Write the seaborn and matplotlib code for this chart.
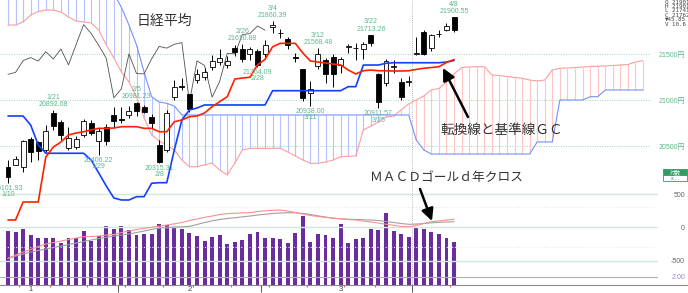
import numpy as np
import pandas as pd
import matplotlib
matplotlib.use("Agg")
import matplotlib.pyplot as plt
from matplotlib.patches import Rectangle, FancyArrowPatch
from matplotlib.lines import Line2D
import seaborn as sns

# ---------------- data ----------------
dates = ['1/10', '1/11', '1/15', '1/16', '1/17', '1/18', '1/21', '1/22', '1/23', '1/24',
         '1/25', '1/28', '1/29', '1/30', '1/31',
         '2/1', '2/4', '2/5', '2/6', '2/7', '2/8', '2/12', '2/13', '2/14', '2/15',
         '2/18', '2/19', '2/20', '2/21', '2/22', '2/25', '2/26', '2/27', '2/28',
         '3/1', '3/4', '3/5', '3/6', '3/7', '3/8', '3/11', '3/12', '3/13', '3/14',
         '3/15', '3/18', '3/19', '3/20', '3/22', '3/25', '3/26', '3/27', '3/28', '3/29',
         '4/1', '4/2', '4/3', '4/4', '4/5', '4/8']

open_ = [20270, 20296, 20270, 20580, 20550, 20460, 20862, 20767, 20481, 20495,
         20623, 20756, 20561, 20713, 20840,
         20795, 20840, 20968, 20925, 20821, 20514, 20460, 21040, 21150, 21065,
         21220, 21256, 21365, 21420, 21383, 21572, 21555, 21500, 21535,
         21500, 21796, 21735, 21665, 21470, 21340, 21076, 21373, 21438, 21474,
         21383, 21575, 21570, 21554, 21705, 21285, 21185, 21360, 21200, 21200,
         21500, 21745, 21565, 21720, 21764, 21900]
high = [20346, 20389, 20570, 20604, 20560, 20731, 20892.68, 20786, 20713, 20610,
        20800, 20790, 20700, 20740, 20930,
        20930, 20940, 20981.23, 20950, 20850, 20568, 20894, 21215, 21240, 21070,
        21340, 21350, 21494, 21553, 21486, 21600, 21610.88, 21578, 21559,
        21650, 21860.39, 21776, 21690, 21510, 21345, 21208, 21568.48, 21460, 21500,
        21473, 21617, 21622, 21630, 21713.26, 21300, 21450, 21440, 21240, 21260,
        21690, 21760, 21723, 21760, 21840, 21900.55]
low = [20101.93, 20291, 20215, 20332, 20351, 20440, 20677, 20568, 20460, 20470,
       20600, 20620, 20406.22, 20510, 20695,
       20753, 20807, 20830, 20860, 20700, 20315.31, 20440, 21000, 21112, 20870,
       21190, 21220, 21330, 21380, 21355, 21480, 21418, 21443, 21364.09,
       21470, 21731, 21674, 21560, 21420, 20990, 20938.00, 21340, 21193, 21146,
       21300, 21511, 21438, 21450, 21588, 20911.57, 21150, 21300, 21000, 21150,
       21490, 21490, 21540, 21690, 21755, 21741]
close = [20164, 20360, 20555, 20443, 20445, 20666, 20719, 20623, 20594, 20575,
         20774, 20649, 20665, 20557, 20773,
         20788, 20884, 20880, 20874, 20751, 20333, 20864, 21144, 21140, 20901,
         21282, 21303, 21431, 21464, 21426, 21528, 21449, 21557, 21385,
         21603, 21822, 21726, 21597, 21456, 21026, 21125, 21504, 21290, 21287,
         21451, 21585, 21567, 21609, 21627, 20977, 21428, 21378, 21034, 21206,
         21509, 21505, 21713, 21725, 21808, 21762]

tenkan = [19699, 19699, 19894, 19894, 19894, 20383, 20492, 20546, 20623, 20644,
          20658, 20677, 20695, 20695, 20699, 20713, 20713, 20713, 20695, 20695,
          20658, 20658, 20767, 20786, 20821, 20829, 20862, 20930, 20985, 21039,
          21231, 21242, 21250, 21384, 21445, 21582, 21619, 21619, 21619, 21514,
          21427, 21416, 21405, 21394, 21384, 21329, 21286, 21321, 21329, 21321,
          21321, 21318, 21318, 21321, 21335, 21348, 21356, 21365, 21411, 21443]
kijun = [20829, 20829, 20829, 20731, 20514, 20424, 20424, 20424, 20424, 20424,
         20424, 20351, 20210, 20068, 19938, 19916, 19916, 19952, 19952, 20098,
         20104, 20104, 20460, 20786, 20894, 20916, 20949, 20949, 20949, 20949,
         20949, 20949, 20949, 20949, 20949, 21104, 21104, 21104, 21104, 21104,
         21104, 21104, 21104, 21104, 21104, 21148, 21148, 21383, 21383, 21383,
         21402, 21408, 21408, 21408, 21408, 21408, 21408, 21408, 21416, 21432]

# leading spans run 25 sessions past the last candle
span_a = [21818, 21818, 21851, 21927, 21965, 21981, 21981, 21960, 21905, 21862,
          21851, 21840, 21764, 21601, 21460, 21307, 21199, 21036, 20807, 20623,
          20557, 20514, 20460, 20351, 20278, 20278, 20297, 20318, 20242, 20188,
          20318, 20460, 20478, 20478, 20478, 20478, 20478, 20438, 20394, 20351,
          20315, 20315, 20329, 20351, 20387, 20391, 20394, 20677, 20720, 20764,
          20818, 20830, 20894, 20960, 21003, 21047, 21112, 21128, 21199, 21286,
          21356, 21362, 21365, 21365, 21275, 21269, 21258, 21248, 21239, 21220,
          21210, 21220, 21329, 21348, 21351, 21356, 21362, 21367, 21370, 21373,
          21378, 21384, 21389, 21416, 21430]
span_b = [22250, 22250, 22250, 22250, 22250, 22250, 22250, 22250, 22250, 22250,
          22250, 22250, 22250, 22250, 22160, 22010, 21818, 21601, 21307, 21039,
          20981, 20967, 20938, 20840, 20840, 20840, 20840, 20840, 20840, 20840,
          20840, 20840, 20840, 20840, 20840, 20840, 20840, 20840, 20840, 20840,
          20840, 20840, 20840, 20840, 20840, 20840, 20840, 20840, 20840, 20840,
          20840, 20840, 20840, 20840, 20568, 20460, 20416, 20416, 20416, 20416,
          20416, 20416, 20416, 20416, 20416, 20416, 20416, 20416, 20416, 20416,
          20547, 20547, 20547, 21003, 21003, 21003, 21003, 21039, 21039, 21112,
          21112, 21112, 21112, 21112, 21112]

macd = [-464, -415, -370, -332, -287, -250, -227, -205, -182, -160,
        -140, -136, -130, -115, -106, -77, -55, -32, -14, 2,
        20, 35, 53, 73, 103, 125, 151, 170, 193, 206,
        212, 217, 220, 238, 248, 257, 260, 245, 223, 200,
        178, 163, 151, 140, 128, 118, 110, 95, 80, 65,
        47, 31, 14, 10, 28, 58, 85, 98, 110, 121]
signal = [-464, -430, -400, -370, -347, -325, -302, -280, -260, -235,
          -212, -190, -167, -149, -130, -115, -100, -77, -55, -32,
          -10, -2, 5, 8, 16, 43, 73, 98, 118, 133,
          145, 158, 170, 185, 197, 208, 215, 220, 218, 208,
          193, 173, 155, 136, 128, 122, 118, 113, 110, 103,
          88, 73, 58, 46, 50, 58, 68, 76, 80, 85]

# volume, 100 million shares
volume = [13.2, 13.0, 13.6, 12.1, 11.5, 11.5, 11.4, 10.2, 11.5, 11.5,
          13.2, 10.7, 11.9, 14.5, 13.7, 14.3, 13.5, 12.2, 12.5, 12.5,
          14.8, 14.6, 14.1, 13.6, 12.8, 12.0, 10.7, 11.6, 12.1, 10.0,
          10.6, 10.9, 12.4, 13.0, 11.5, 11.4, 11.1, 10.2, 12.6, 16.8,
          10.4, 12.4, 12.3, 11.4, 14.8, 10.2, 11.1, 11.5, 13.7, 13.4,
          17.5, 13.2, 12.4, 11.8, 14.2, 13.6, 13.0, 12.4, 11.4, 10.6]

marked_highs = ['1/21', '2/5', '2/26', '3/4', '3/12', '3/22', '4/8']
marked_lows = ['1/10', '1/29', '2/8', '2/28', '3/11', '3/25']
month_label_days = ['1/16', '2/15', '3/15']

price_grid = [21500, 21000, 20500]
macd_grid = [500, 0, -500]
macd_grid_minor = [300, -300]
vol_grid = [2.0]

last_bar = ['O 21901', 'H 21901', 'L 21741', 'C 21762', '▼45.85', 'V 10.6']

# ---------------- figure ----------------
W, H = 688, 293
sns.set_theme(style="white")
plt.rcParams["font.family"] = ["Noto Sans CJK JP", "DejaVu Sans"]

GREEN = "#5cb88a"
GRID = "#cfe9da"

fig = plt.figure(figsize=(W / 100, H / 100), dpi=100)
rect = [0, 8 / H, 658 / W, 285 / H]
ax_v = fig.add_axes(rect)
ax_m = fig.add_axes(rect)
ax_p = fig.add_axes(rect)
for a in (ax_m, ax_p):
    a.patch.set_alpha(0)

idx = np.arange(len(close))
o = np.array(open_); c = np.array(close)
hi = np.array(high); lo = np.array(low)
sa = np.array(span_a); sb = np.array(span_b)
fidx = np.arange(len(sa))

# ---- volume panel ----
ax_v.bar(idx, volume, width=0.52, color="#6a2da0", edgecolor="none", lw=0, zorder=2)
ax_v.axhline(vol_grid[0], color="#b0b0b0", lw=0.8, zorder=3)

# ---- macd panel ----
ax_m.hlines(macd_grid, -2, 86, colors=GRID, lw=1.0, zorder=1)
ax_m.hlines(macd_grid_minor, -2, 86, colors="#dceee3", lw=0.8,
            linestyles=(0, (1, 1.5)), zorder=1)
sns.lineplot(x=idx, y=signal, ax=ax_m, color="#a0a0a0", lw=0.8, zorder=3)
sns.lineplot(x=idx, y=macd, ax=ax_m, color="#ff9090", lw=0.8, zorder=4)

# ---- price panel ----
ax_p.hlines(price_grid, -2, 84.9, colors="#9fd6b6", lw=0.7,
            linestyles=(0, (1, 1.5)), zorder=0)
cloud_col = np.where(sa > sb, "#ffc4c4", "#b4c2ff")
ax_p.vlines(fidx, np.minimum(sa, sb), np.maximum(sa, sb), colors=cloud_col,
            lw=0.8, zorder=1)
sns.lineplot(x=fidx, y=sa, ax=ax_p, color="#ff9c9c", lw=0.8, zorder=2)
sns.lineplot(x=fidx, y=sb, ax=ax_p, color="#7591ff", lw=0.8, zorder=2)

# lagging span: closes plotted 25 sessions back
sns.lineplot(x=idx[:-25], y=c[25:], ax=ax_p, color="#505050", lw=0.6, zorder=3)
sns.lineplot(x=idx, y=kijun, ax=ax_p, color="#1040ff", lw=1.2, zorder=6)
sns.lineplot(x=idx, y=tenkan, ax=ax_p, color="#ff2000", lw=1.2, zorder=6)

up = c >= o
ax_p.vlines(idx, lo, hi, color="black", lw=0.7, zorder=4)
ax_p.bar(idx, np.abs(c - o), bottom=np.minimum(o, c), width=0.66,
         color=np.where(up, "white", "black"), edgecolor="black", lw=0.6, zorder=5)

lab_font = dict(fontsize=5, color=GREEN, ha="center", va="center",
                family="Liberation Sans", textcoords="offset points", zorder=7)
for d in marked_highs:
    i = dates.index(d)
    ax_p.annotate(f"{hi[i]:.2f}", (i, hi[i]), xytext=(0, 4), **lab_font)
    ax_p.annotate(d, (i, hi[i]), xytext=(0, 9.2), **lab_font)
for d in marked_lows:
    i = dates.index(d)
    ax_p.annotate(f"{lo[i]:.2f}", (i, lo[i]), xytext=(0, -3.8), **lab_font)
    ax_p.annotate(d, (i, lo[i]), xytext=(0, -8.4), **lab_font)

# ---- limits ----
for a in (ax_v, ax_m, ax_p):
    a.set_xlim(-8 / 7.56, 650 / 7.56)
    for s in a.spines.values():
        s.set_visible(False)
    a.set_xlabel(""); a.set_ylabel("")
ax_p.set_ylim(18992, 22090)
ax_m.set_ylim(-864, 3409)
ax_v.set_ylim(0, 69.5)

# right-hand scales
ax_p.yaxis.tick_right()
ax_p.set_yticks(price_grid)
ax_p.set_yticklabels([f"{v}円" for v in price_grid], color=GREEN, fontsize=5,
                     family=["Liberation Sans", "Noto Sans CJK JP"])
ax_m.yaxis.tick_right()
ax_m.set_yticks(macd_grid)
ax_m.set_yticklabels([str(v) for v in macd_grid], color="#666666", fontsize=5,
                     family="Liberation Sans")
ax_v.yaxis.tick_right()
ax_v.set_yticks(vol_grid)
ax_v.set_yticklabels(["2.00"], color="#9a80d0", fontsize=5, family="Liberation Sans")
for a in (ax_v, ax_m, ax_p):
    a.tick_params(axis="y", length=0, pad=19.4)
    for t in a.get_yticklabels():
        t.set_horizontalalignment("right")
ax_m.tick_params(axis="x", bottom=False, labelbottom=False)
ax_p.tick_params(axis="x", bottom=False, labelbottom=False)

# bottom axis: month numbers, month boundaries, week boundaries
ts = pd.to_datetime(["2019/" + d for d in dates])
month_breaks = [i - 0.5 for i in range(1, len(ts)) if ts[i].month != ts[i - 1].month]
week_breaks = [i - 0.5 for i in range(1, len(ts)) if ts[i].weekday() < ts[i - 1].weekday()]
ax_v.set_xticks([dates.index(d) for d in month_label_days])
ax_v.set_xticklabels([d.split("/")[0] for d in month_label_days], fontsize=5.5,
                     color="#444444", family="Liberation Sans")
ax_v.tick_params(axis="x", length=0, pad=0.5)
ax_v.vlines(week_breaks, -0.5, 0, color="#ff6040", lw=0.8, clip_on=False, zorder=4)
ax_v.vlines(month_breaks, -1.8, 0, color="#555555", lw=0.7, clip_on=False, zorder=4)
ax_v.axvline(month_breaks[-1], ymin=0, ymax=1, color="#a0a0a0", lw=0.6,
             ls=(0, (1, 1.5)), zorder=4)
fig.add_artist(Line2D([0, 1], [8 / H, 8 / H], color="#8c8c8c", lw=0.8))


def F(px, py):
    return (px / W, 1 - py / H)


txt = dict(color="#333333", va="center", ha="left")
fig.text(*F(137, 21), "日経平均", fontsize=10, **txt)
fig.text(*F(440, 130), "転換線と基準線ＧＣ", fontsize=9.8, **txt)
fig.text(*F(370, 178), "ＭＡＣＤゴールｄ年クロス", fontsize=9.2, **txt)

arrow = dict(arrowstyle="-|>,head_length=0.6,head_width=0.3", color="black",
             lw=1.8, shrinkA=0, shrinkB=0, mutation_scale=12)
fig.add_artist(FancyArrowPatch(F(468, 117), F(443, 68),
               transform=fig.transFigure, **arrow))
fig.add_artist(FancyArrowPatch(F(420, 189), F(432, 221),
               transform=fig.transFigure, **arrow))

# last bar readout
for k, line in enumerate(last_bar):
    fig.text(*F(665, 2 + 4.4 * k), line, fontsize=4.2, color="#444444",
             family="DejaVu Sans Mono", va="center", ha="left")

# log-scale toggle box
fig.add_artist(Rectangle(F(663, 175), 24 / W, 6 / H, transform=fig.transFigure,
                         facecolor="#2f9d62", edgecolor="#2f9d62", lw=0.6))
fig.add_artist(Rectangle(F(663, 181), 24 / W, 6 / H, transform=fig.transFigure,
                         facecolor="white", edgecolor="#2f9d62", lw=0.6))
fig.text(*F(675, 172), "対数", fontsize=4, color="white", ha="center", va="center")
fig.text(*F(675, 178), "x . .", fontsize=4, color="#2f9d62", ha="center", va="center")

fig.savefig("out.png", dpi=100)
